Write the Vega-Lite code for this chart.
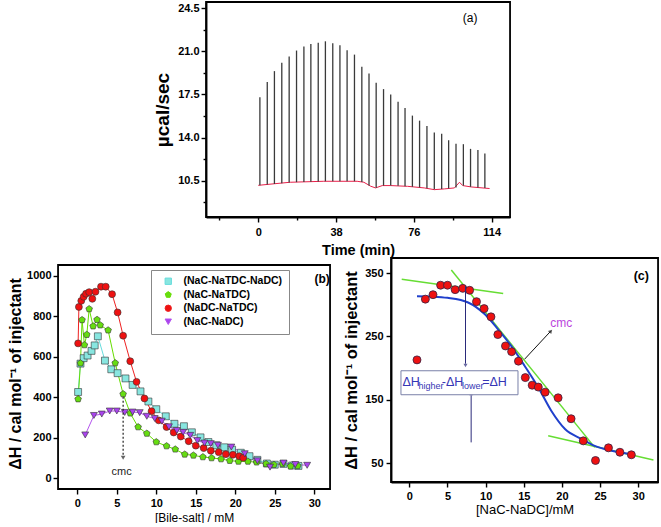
{
  "$schema": "https://vega.github.io/schema/vega-lite/v6.json",
  "background": "white",
  "padding": {"left": 7, "top": 1, "right": 0, "bottom": 0},
  "spacing": -7,
  "center": true,
  "config": {
    "font": "Liberation Sans",
    "view": {"stroke": "black", "strokeWidth": 1.8},
    "axis": {"grid": false, "domainColor": "black", "domainWidth": 1.8, "tickColor": "black", "tickWidth": 1.4, "tickSize": 5, "labelFontSize": 11, "labelFontWeight": "bold", "labelColor": "black", "titleColor": "black", "labelPadding": 2, "labelFont": "Liberation Sans", "titleFont": "Liberation Sans", "labelOverlap": false},
    "title": {"font": "Liberation Sans"}
  },
  "datasets": {
    "spikes": [
      {"t": 0.8, "base": 10.13, "peak": 17.26}, {"t": 4.4, "base": 10.18, "peak": 18.5}, {"t": 7.9, "base": 10.23, "peak": 19.39}, {"t": 11.5, "base": 10.28, "peak": 20.06},
      {"t": 15.1, "base": 10.35, "peak": 20.57}, {"t": 18.7, "base": 10.38, "peak": 21.06}, {"t": 22.3, "base": 10.4, "peak": 21.38}, {"t": 25.7, "base": 10.42, "peak": 21.59},
      {"t": 29.3, "base": 10.44, "peak": 21.7}, {"t": 32.8, "base": 10.45, "peak": 21.81}, {"t": 36.4, "base": 10.45, "peak": 21.65}, {"t": 39.9, "base": 10.45, "peak": 21.49},
      {"t": 43.4, "base": 10.45, "peak": 21.08}, {"t": 47.0, "base": 10.45, "peak": 20.73}, {"t": 50.6, "base": 10.4, "peak": 19.74}, {"t": 54.1, "base": 10.1, "peak": 19.2},
      {"t": 57.6, "base": 9.93, "peak": 18.44}, {"t": 61.2, "base": 10.1, "peak": 17.93}, {"t": 64.7, "base": 10.1, "peak": 17.5}, {"t": 68.3, "base": 10.08, "peak": 16.91},
      {"t": 71.7, "base": 10.05, "peak": 16.4}, {"t": 75.3, "base": 10.0, "peak": 15.78}, {"t": 78.8, "base": 9.95, "peak": 15.37}, {"t": 82.4, "base": 9.88, "peak": 14.94},
      {"t": 86.0, "base": 9.8, "peak": 14.4}, {"t": 89.6, "base": 9.82, "peak": 14.3}, {"t": 93.0, "base": 9.87, "peak": 13.78}, {"t": 96.6, "base": 9.95, "peak": 13.49},
      {"t": 100.2, "base": 10.1, "peak": 13.46}, {"t": 103.7, "base": 10.0, "peak": 13.08}, {"t": 107.3, "base": 9.95, "peak": 12.98}, {"t": 110.7, "base": 9.9, "peak": 12.7}
    ],
    "baseline": [
      {"t": 0, "v": 10.12}, {"t": 8, "v": 10.25}, {"t": 15.6, "v": 10.37}, {"t": 32, "v": 10.45}, {"t": 48.3, "v": 10.45}, {"t": 51.6, "v": 10.37},
      {"t": 54.9, "v": 10.05}, {"t": 57.3, "v": 9.91}, {"t": 60.6, "v": 10.1}, {"t": 64.7, "v": 10.1}, {"t": 72.9, "v": 10.04}, {"t": 81.1, "v": 9.91},
      {"t": 86, "v": 9.77}, {"t": 90.9, "v": 9.83}, {"t": 95.8, "v": 9.91}, {"t": 98.3, "v": 10.37}, {"t": 99.9, "v": 10.1}, {"t": 104, "v": 9.99}, {"t": 113, "v": 9.86}
    ],
    "b": [
      {"series": "(NaC-NaTDC-NaDC)", "x": 0.1, "y": 425}, {"series": "(NaC-NaTDC-NaDC)", "x": 0.4, "y": 565}, {"series": "(NaC-NaTDC-NaDC)", "x": 0.8, "y": 592}, {"series": "(NaC-NaTDC-NaDC)", "x": 1.3, "y": 605},
      {"series": "(NaC-NaTDC-NaDC)", "x": 1.8, "y": 628}, {"series": "(NaC-NaTDC-NaDC)", "x": 2.2, "y": 655}, {"series": "(NaC-NaTDC-NaDC)", "x": 2.6, "y": 700}, {"series": "(NaC-NaTDC-NaDC)", "x": 3.5, "y": 580},
      {"series": "(NaC-NaTDC-NaDC)", "x": 4.3, "y": 537}, {"series": "(NaC-NaTDC-NaDC)", "x": 5.1, "y": 518}, {"series": "(NaC-NaTDC-NaDC)", "x": 6.1, "y": 492}, {"series": "(NaC-NaTDC-NaDC)", "x": 7.0, "y": 460},
      {"series": "(NaC-NaTDC-NaDC)", "x": 8.0, "y": 428}, {"series": "(NaC-NaTDC-NaDC)", "x": 9.0, "y": 378}, {"series": "(NaC-NaTDC-NaDC)", "x": 10.0, "y": 340}, {"series": "(NaC-NaTDC-NaDC)", "x": 11.2, "y": 305},
      {"series": "(NaC-NaTDC-NaDC)", "x": 12.3, "y": 268}, {"series": "(NaC-NaTDC-NaDC)", "x": 13.5, "y": 256}, {"series": "(NaC-NaTDC-NaDC)", "x": 14.5, "y": 226}, {"series": "(NaC-NaTDC-NaDC)", "x": 15.6, "y": 201},
      {"series": "(NaC-NaTDC-NaDC)", "x": 16.6, "y": 178}, {"series": "(NaC-NaTDC-NaDC)", "x": 17.6, "y": 162}, {"series": "(NaC-NaTDC-NaDC)", "x": 18.6, "y": 152}, {"series": "(NaC-NaTDC-NaDC)", "x": 19.6, "y": 140},
      {"series": "(NaC-NaTDC-NaDC)", "x": 20.7, "y": 125}, {"series": "(NaC-NaTDC-NaDC)", "x": 21.8, "y": 108}, {"series": "(NaC-NaTDC-NaDC)", "x": 22.8, "y": 90}, {"series": "(NaC-NaTDC-NaDC)", "x": 24.0, "y": 72},
      {"series": "(NaC-NaTDC-NaDC)", "x": 25.0, "y": 66}, {"series": "(NaC-NaTDC-NaDC)", "x": 26.1, "y": 70}, {"series": "(NaC-NaTDC-NaDC)", "x": 27.2, "y": 62}, {"series": "(NaC-NaTDC-NaDC)", "x": 28.0, "y": 60},
      {"series": "(NaC-NaTDC)", "x": 0.1, "y": 390}, {"series": "(NaC-NaTDC)", "x": 0.4, "y": 567}, {"series": "(NaC-NaTDC)", "x": 0.6, "y": 781}, {"series": "(NaC-NaTDC)", "x": 0.9, "y": 657},
      {"series": "(NaC-NaTDC)", "x": 1.2, "y": 708}, {"series": "(NaC-NaTDC)", "x": 1.5, "y": 835}, {"series": "(NaC-NaTDC)", "x": 2.0, "y": 750}, {"series": "(NaC-NaTDC)", "x": 2.5, "y": 782},
      {"series": "(NaC-NaTDC)", "x": 2.9, "y": 755}, {"series": "(NaC-NaTDC)", "x": 3.9, "y": 730}, {"series": "(NaC-NaTDC)", "x": 4.8, "y": 568}, {"series": "(NaC-NaTDC)", "x": 5.8, "y": 415},
      {"series": "(NaC-NaTDC)", "x": 6.7, "y": 320}, {"series": "(NaC-NaTDC)", "x": 7.7, "y": 252}, {"series": "(NaC-NaTDC)", "x": 8.8, "y": 220}, {"series": "(NaC-NaTDC)", "x": 10.0, "y": 178},
      {"series": "(NaC-NaTDC)", "x": 11.3, "y": 158}, {"series": "(NaC-NaTDC)", "x": 12.4, "y": 142}, {"series": "(NaC-NaTDC)", "x": 13.6, "y": 117}, {"series": "(NaC-NaTDC)", "x": 14.7, "y": 112},
      {"series": "(NaC-NaTDC)", "x": 15.9, "y": 104}, {"series": "(NaC-NaTDC)", "x": 17.0, "y": 99}, {"series": "(NaC-NaTDC)", "x": 18.2, "y": 94}, {"series": "(NaC-NaTDC)", "x": 19.3, "y": 86},
      {"series": "(NaC-NaTDC)", "x": 20.4, "y": 82}, {"series": "(NaC-NaTDC)", "x": 21.6, "y": 82}, {"series": "(NaC-NaTDC)", "x": 22.7, "y": 78}, {"series": "(NaC-NaTDC)", "x": 23.9, "y": 70},
      {"series": "(NaC-NaTDC)", "x": 24.9, "y": 66}, {"series": "(NaC-NaTDC)", "x": 26.0, "y": 70}, {"series": "(NaC-NaTDC)", "x": 27.0, "y": 58}, {"series": "(NaC-NaTDC)", "x": 27.9, "y": 60},
      {"series": "(NaDC-NaTDC)", "x": 0.1, "y": 665}, {"series": "(NaDC-NaTDC)", "x": 0.2, "y": 845}, {"series": "(NaDC-NaTDC)", "x": 0.5, "y": 875}, {"series": "(NaDC-NaTDC)", "x": 0.8, "y": 895},
      {"series": "(NaDC-NaTDC)", "x": 1.1, "y": 910}, {"series": "(NaDC-NaTDC)", "x": 1.5, "y": 918}, {"series": "(NaDC-NaTDC)", "x": 1.9, "y": 885}, {"series": "(NaDC-NaTDC)", "x": 2.3, "y": 920},
      {"series": "(NaDC-NaTDC)", "x": 3.0, "y": 945}, {"series": "(NaDC-NaTDC)", "x": 3.6, "y": 945}, {"series": "(NaDC-NaTDC)", "x": 4.4, "y": 908}, {"series": "(NaDC-NaTDC)", "x": 5.1, "y": 818},
      {"series": "(NaDC-NaTDC)", "x": 5.8, "y": 703}, {"series": "(NaDC-NaTDC)", "x": 6.7, "y": 577}, {"series": "(NaDC-NaTDC)", "x": 7.5, "y": 475}, {"series": "(NaDC-NaTDC)", "x": 8.5, "y": 393},
      {"series": "(NaDC-NaTDC)", "x": 9.4, "y": 330}, {"series": "(NaDC-NaTDC)", "x": 10.3, "y": 285}, {"series": "(NaDC-NaTDC)", "x": 11.3, "y": 252}, {"series": "(NaDC-NaTDC)", "x": 12.2, "y": 225},
      {"series": "(NaDC-NaTDC)", "x": 13.1, "y": 205}, {"series": "(NaDC-NaTDC)", "x": 14.1, "y": 182}, {"series": "(NaDC-NaTDC)", "x": 15.0, "y": 160}, {"series": "(NaDC-NaTDC)", "x": 16.0, "y": 148},
      {"series": "(NaDC-NaTDC)", "x": 16.9, "y": 135}, {"series": "(NaDC-NaTDC)", "x": 17.9, "y": 128}, {"series": "(NaDC-NaTDC)", "x": 18.8, "y": 118}, {"series": "(NaDC-NaTDC)", "x": 19.7, "y": 115},
      {"series": "(NaDC-NaTDC)", "x": 20.5, "y": 108}, {"series": "(NaDC-NaTDC)", "x": 21.0, "y": 100},
      {"series": "(NaC-NaDC)", "x": 1.0, "y": 213}, {"series": "(NaC-NaDC)", "x": 2.1, "y": 309}, {"series": "(NaC-NaDC)", "x": 3.1, "y": 316}, {"series": "(NaC-NaDC)", "x": 4.1, "y": 331},
      {"series": "(NaC-NaDC)", "x": 5.0, "y": 331}, {"series": "(NaC-NaDC)", "x": 6.0, "y": 324}, {"series": "(NaC-NaDC)", "x": 7.0, "y": 326}, {"series": "(NaC-NaDC)", "x": 7.9, "y": 323},
      {"series": "(NaC-NaDC)", "x": 8.8, "y": 305}, {"series": "(NaC-NaDC)", "x": 9.8, "y": 294}, {"series": "(NaC-NaDC)", "x": 10.7, "y": 281}, {"series": "(NaC-NaDC)", "x": 11.6, "y": 253},
      {"series": "(NaC-NaDC)", "x": 12.6, "y": 235}, {"series": "(NaC-NaDC)", "x": 13.4, "y": 226}, {"series": "(NaC-NaDC)", "x": 14.3, "y": 211}, {"series": "(NaC-NaDC)", "x": 15.2, "y": 185},
      {"series": "(NaC-NaDC)", "x": 16.1, "y": 173}, {"series": "(NaC-NaDC)", "x": 16.9, "y": 170}, {"series": "(NaC-NaDC)", "x": 17.8, "y": 162}, {"series": "(NaC-NaDC)", "x": 19.5, "y": 153},
      {"series": "(NaC-NaDC)", "x": 21.2, "y": 120}, {"series": "(NaC-NaDC)", "x": 22.8, "y": 85}, {"series": "(NaC-NaDC)", "x": 24.4, "y": 54}, {"series": "(NaC-NaDC)", "x": 26.1, "y": 74},
      {"series": "(NaC-NaDC)", "x": 27.6, "y": 67}, {"series": "(NaC-NaDC)", "x": 29.1, "y": 63}
    ],
    "c": [
      {"x": 1.0, "y": 213}, {"x": 2.1, "y": 309}, {"x": 3.1, "y": 316}, {"x": 4.1, "y": 331}, {"x": 5.0, "y": 331}, {"x": 6.0, "y": 324}, {"x": 7.0, "y": 326},
      {"x": 7.9, "y": 323}, {"x": 8.8, "y": 305}, {"x": 9.8, "y": 294}, {"x": 10.7, "y": 281}, {"x": 11.6, "y": 253}, {"x": 12.6, "y": 235}, {"x": 13.4, "y": 226},
      {"x": 14.3, "y": 211}, {"x": 15.2, "y": 185}, {"x": 16.1, "y": 173}, {"x": 16.9, "y": 170}, {"x": 17.8, "y": 162}, {"x": 19.5, "y": 153}, {"x": 21.2, "y": 120},
      {"x": 22.8, "y": 85}, {"x": 24.4, "y": 54}, {"x": 26.1, "y": 74}, {"x": 27.6, "y": 67}, {"x": 29.1, "y": 63}
    ],
    "fit": [
      {"x": 1.0, "y": 313.7}, {"x": 3.0, "y": 313}, {"x": 5.0, "y": 311}, {"x": 7.7, "y": 303.7}, {"x": 9.9, "y": 285}, {"x": 11.6, "y": 261.6}, {"x": 13.35, "y": 235},
      {"x": 15.1, "y": 203.7}, {"x": 16.9, "y": 169.5}, {"x": 18.6, "y": 132.6}, {"x": 20.4, "y": 103.7}, {"x": 22.6, "y": 87.9}, {"x": 24.3, "y": 77}, {"x": 26.5, "y": 69.5}, {"x": 29.1, "y": 64}
    ],
    "tang": [
      {"id": 1, "x": -1.0, "y": 340.5}, {"id": 1, "x": 12.3, "y": 318},
      {"id": 2, "x": 5.5, "y": 355}, {"id": 2, "x": 24.3, "y": 74.7},
      {"id": 3, "x": 18.2, "y": 93}, {"id": 3, "x": 32.0, "y": 54.7}
    ]
  },
  "vconcat": [
    {
      "width": 304,
      "height": 215,
      "resolve": {"axis": {"y": "independent"}},
      "layer": [
        {
          "data": {"name": "baseline"},
          "mark": {"type": "line", "color": "#e8204a", "strokeWidth": 1},
          "encoding": {
            "x": {"field": "t", "type": "quantitative", "scale": {"domain": [-25.5, 123], "nice": false, "zero": false},
              "axis": {"title": "Time (min)", "titleFontSize": 14.5, "titleFontWeight": "bold", "titlePadding": 6, "values": [-19, 0, 19, 38, 57, 76, 95, 114],
                "labelExpr": "datum.value % 38 == 0 ? datum.label : ''", "tickSize": {"condition": {"test": "datum.value % 38 != 0", "value": 3}, "value": 5}, "labelPadding": 4}},
            "y": {"field": "v", "type": "quantitative", "scale": {"domain": [7.55, 25], "nice": false, "zero": false},
              "axis": {"orient": "left", "title": "µcal/sec", "titleFontSize": 19, "titleFontWeight": "bold", "titlePadding": 5, "values": [10.5, 14, 17.5, 21, 24.5], "format": ".1f"}}
          }
        },
        {
          "data": {"name": "spikes"},
          "mark": {"type": "rule", "color": "#3a3a3a", "strokeWidth": 1.3},
          "encoding": {
            "x": {"field": "t", "type": "quantitative"},
            "y": {"field": "base", "type": "quantitative",
              "axis": {"orient": "left", "title": null, "labels": false, "domain": false, "tickSize": 3, "values": [8.75, 12.25, 15.75, 19.25, 22.75]}},
            "y2": {"field": "peak"}
          }
        },
        {
          "data": {"values": [{"x": 103.5, "y": 23.7, "label": "(a)"}]},
          "mark": {"type": "text", "fontSize": 12, "color": "black"},
          "encoding": {"x": {"field": "x", "type": "quantitative"}, "y": {"field": "y", "type": "quantitative", "axis": null}, "text": {"field": "label"}}
        }
      ]
    },
    {
      "hconcat": [
        {
          "width": 272,
          "height": 231,
          "view": {"stroke": null},
          "layer": [
            {
              "data": {"values": [{"x": -2.44, "x2": 32, "y": -54, "y2": 1052}]},
              "mark": {"type": "rect", "filled": false, "stroke": "black", "strokeWidth": 1.8},
              "encoding": {
                "x": {"field": "x", "type": "quantitative", "scale": {"domain": [-2.44, 32], "nice": false, "zero": false},
                  "axis": {"title": "[Bile-salt] / mM", "domain": false, "titleFontSize": 12, "titleFontWeight": "normal", "titlePadding": 4, "values": [0, 2.5, 5, 7.5, 10, 12.5, 15, 17.5, 20, 22.5, 25, 27.5, 30],
                    "labelExpr": "datum.value % 5 == 0 ? datum.label : ''", "tickSize": {"condition": {"test": "datum.value % 5 != 0", "value": 3}, "value": 5}, "labelPadding": 3}},
                "x2": {"field": "x2"},
                "y": {"field": "y", "type": "quantitative", "scale": {"domain": [-54, 1086.6], "nice": false, "zero": false},
                  "axis": {"title": "ΔH / cal mol⁻¹ of injectant", "domain": false, "titleFontSize": 16, "titleFontWeight": "bold", "titlePadding": 3, "format": "d", "values": [0, 100, 200, 300, 400, 500, 600, 700, 800, 900, 1000]}},
                "y2": {"field": "y2"}
              }
            },
            {
              "data": {"name": "b"},
              "mark": {"type": "line", "strokeWidth": 1},
              "encoding": {
                "x": {"field": "x", "type": "quantitative"},
                "y": {"field": "y", "type": "quantitative"},
                "stroke": {"field": "series", "type": "nominal", "scale": {"domain": ["(NaC-NaTDC-NaDC)", "(NaC-NaTDC)", "(NaDC-NaTDC)", "(NaC-NaDC)"], "range": ["#66dcdc", "#66dd00", "#ee2222", "#b455ee"]},
                  "legend": {"orient": "none", "legendX": 93, "legendY": 268, "title": null, "strokeColor": "#888888", "fillColor": "white", "padding": 6, "labelFont": "Liberation Sans", "labelFontWeight": "bold", "labelFontSize": 10.5, "labelColor": "black", "symbolSize": 40, "rowPadding": 2.5, "labelOffset": 10, "symbolOffset": 6, "symbolStrokeWidth": 1}}
              }
            },
            {
              "data": {"name": "b"},
              "mark": {"type": "point", "stroke": "#333333", "strokeWidth": 0.6, "size": 48, "opacity": 1, "fillOpacity": 1},
              "encoding": {
                "x": {"field": "x", "type": "quantitative"},
                "y": {"field": "y", "type": "quantitative"},
                "fill": {"field": "series", "type": "nominal", "scale": {"domain": ["(NaC-NaTDC-NaDC)", "(NaC-NaTDC)", "(NaDC-NaTDC)", "(NaC-NaDC)"], "range": ["#88e6e0", "#66dd11", "#ee1111", "#aa44ee"]},
                  "legend": {"orient": "none", "legendX": 93, "legendY": 268, "title": null, "strokeColor": "#888888", "fillColor": "white", "padding": 6, "labelFont": "Liberation Sans", "labelFontWeight": "bold", "labelFontSize": 10.5, "labelColor": "black", "symbolSize": 40, "rowPadding": 2.5, "labelOffset": 10, "symbolOffset": 6, "symbolStrokeWidth": 1}},
                "shape": {"field": "series", "type": "nominal", "scale": {"domain": ["(NaC-NaTDC-NaDC)", "(NaC-NaTDC)", "(NaDC-NaTDC)", "(NaC-NaDC)"], "range": ["square", "M0,-1L0.951,-0.309L0.588,0.809L-0.588,0.809L-0.951,-0.309Z", "circle", "triangle-down"]},
                  "legend": {"orient": "none", "legendX": 93, "legendY": 268, "title": null, "strokeColor": "#888888", "fillColor": "white", "padding": 6, "labelFont": "Liberation Sans", "labelFontWeight": "bold", "labelFontSize": 10.5, "labelColor": "black", "symbolSize": 40, "rowPadding": 2.5, "labelOffset": 10, "symbolOffset": 6, "symbolStrokeWidth": 1}}
              }
            },
            {
              "data": {"values": [{"x": 5.8, "y": 402, "y2": 108}]},
              "mark": {"type": "rule", "color": "#222222", "strokeWidth": 1.2, "strokeDash": [2, 2]},
              "encoding": {"x": {"field": "x", "type": "quantitative"}, "y": {"field": "y", "type": "quantitative"}, "y2": {"field": "y2"}}
            },
            {
              "data": {"values": [{"x": 5.8, "y": 100}]},
              "mark": {"type": "point", "shape": "triangle-down", "filled": true, "color": "#222222", "size": 22},
              "encoding": {"x": {"field": "x", "type": "quantitative"}, "y": {"field": "y", "type": "quantitative"}}
            },
            {
              "data": {"values": [{"x": 5.6, "y": 30, "label": "cmc"}]},
              "mark": {"type": "text", "fontSize": 11, "color": "#222222"},
              "encoding": {"x": {"field": "x", "type": "quantitative"}, "y": {"field": "y", "type": "quantitative"}, "text": {"field": "label"}}
            },
            {
              "data": {"values": [{"x": 31.0, "y": 983, "label": "(b)"}]},
              "mark": {"type": "text", "fontSize": 12, "fontWeight": "bold", "color": "black"},
              "encoding": {"x": {"field": "x", "type": "quantitative"}, "y": {"field": "y", "type": "quantitative"}, "text": {"field": "label"}}
            }
          ]
        },
        {
          "width": 267,
          "height": 224,
          "layer": [
            {
              "data": {"name": "tang"},
              "mark": {"type": "line", "color": "#66dd33", "strokeWidth": 1.5},
              "encoding": {
                "x": {"field": "x", "type": "quantitative", "scale": {"domain": [-2.4, 32.6], "nice": false, "zero": false},
                  "axis": {"title": "[NaC-NaDC]/mM", "titleFontSize": 13, "titleFontWeight": "normal", "titlePadding": 2, "values": [0, 2.5, 5, 7.5, 10, 12.5, 15, 17.5, 20, 22.5, 25, 27.5, 30, 32.5],
                    "labelExpr": "datum.value % 5 == 0 ? datum.label : ''", "tickSize": {"condition": {"test": "datum.value % 5 != 0", "value": 3}, "value": 5}, "labelPadding": 3}},
                "y": {"field": "y", "type": "quantitative", "scale": {"domain": [20, 374], "nice": false, "zero": false},
                  "axis": {"title": "ΔH / cal mol⁻¹ of injectant", "titleFontSize": 16.5, "titleFontWeight": "bold", "titlePadding": 5, "values": [50, 100, 150, 200, 250, 300, 350], "labelPadding": 3}},
                "detail": {"field": "id", "type": "nominal"}
              }
            },
            {
              "data": {"name": "fit"},
              "mark": {"type": "line", "color": "#2040cc", "strokeWidth": 2, "interpolate": "monotone"},
              "encoding": {"x": {"field": "x", "type": "quantitative"}, "y": {"field": "y", "type": "quantitative"}}
            },
            {
              "data": {"name": "c"},
              "mark": {"type": "point", "filled": true, "fill": "#ee1111", "stroke": "#332244", "strokeWidth": 0.8, "size": 64, "opacity": 1},
              "encoding": {"x": {"field": "x", "type": "quantitative"}, "y": {"field": "y", "type": "quantitative"}}
            },
            {
              "data": {"values": [{"x": 15.1, "y": 214, "x2": 18.5, "y2": 258}]},
              "mark": {"type": "rule", "color": "#111111", "strokeWidth": 1},
              "encoding": {"x": {"field": "x", "type": "quantitative"}, "y": {"field": "y", "type": "quantitative"}, "x2": {"field": "x2"}, "y2": {"field": "y2"}}
            },
            {
              "data": {"values": [{"x": 18.55, "y": 258.5}]},
              "mark": {"type": "point", "shape": "triangle-up", "angle": 42, "filled": true, "color": "#111111", "size": 20},
              "encoding": {"x": {"field": "x", "type": "quantitative"}, "y": {"field": "y", "type": "quantitative"}}
            },
            {
              "data": {"values": [{"x": 7.36, "y": 330, "y2": 207}, {"x": 8.1, "y": 82.6, "y2": 157}]},
              "mark": {"type": "rule", "color": "#2a2a7a", "strokeWidth": 1},
              "encoding": {"x": {"field": "x", "type": "quantitative"}, "y": {"field": "y", "type": "quantitative"}, "y2": {"field": "y2"}}
            },
            {
              "data": {"values": [{"x": 7.36, "y": 204}]},
              "mark": {"type": "point", "shape": "triangle-down", "filled": true, "color": "#2a2a7a", "size": 16},
              "encoding": {"x": {"field": "x", "type": "quantitative"}, "y": {"field": "y", "type": "quantitative"}}
            },
            {
              "data": {"values": [{"x": 8.1, "y": 160}]},
              "mark": {"type": "point", "shape": "triangle-up", "filled": true, "color": "#2a2a7a", "size": 16},
              "encoding": {"x": {"field": "x", "type": "quantitative"}, "y": {"field": "y", "type": "quantitative"}}
            },
            {
              "data": {"values": [{"x": -1.1, "x2": 14.24, "y": 157.9, "y2": 195.8}]},
              "mark": {"type": "rect", "fill": "white", "stroke": "#7a80a8", "strokeWidth": 1},
              "encoding": {"x": {"field": "x", "type": "quantitative"}, "x2": {"field": "x2"}, "y": {"field": "y", "type": "quantitative"}, "y2": {"field": "y2"}}
            },
            {
              "data": {"values": [{"x": -0.9, "y": 172.5, "label": "ΔH"}, {"x": 4.25, "y": 172.5, "label": "-ΔH"}, {"x": 9.55, "y": 172.5, "label": "=ΔH"}]},
              "mark": {"type": "text", "align": "left", "baseline": "alphabetic", "fontSize": 12.5, "color": "#3535b5"},
              "encoding": {"x": {"field": "x", "type": "quantitative"}, "y": {"field": "y", "type": "quantitative"}, "text": {"field": "label"}}
            },
            {
              "data": {"values": [{"x": 1.2, "y": 166.5, "label": "higher"}, {"x": 6.9, "y": 166.5, "label": "lower"}]},
              "mark": {"type": "text", "align": "left", "baseline": "alphabetic", "fontSize": 9, "color": "#3535b5"},
              "encoding": {"x": {"field": "x", "type": "quantitative"}, "y": {"field": "y", "type": "quantitative"}, "text": {"field": "label"}}
            },
            {
              "data": {"values": [{"x": 19.9, "y": 271, "label": "cmc"}]},
              "mark": {"type": "text", "fontSize": 12, "color": "#bb44dd"},
              "encoding": {"x": {"field": "x", "type": "quantitative"}, "y": {"field": "y", "type": "quantitative"}, "text": {"field": "label"}}
            },
            {
              "data": {"values": [{"x": 30.4, "y": 345, "label": "(c)"}]},
              "mark": {"type": "text", "fontSize": 12.5, "fontWeight": "bold", "color": "black"},
              "encoding": {"x": {"field": "x", "type": "quantitative"}, "y": {"field": "y", "type": "quantitative"}, "text": {"field": "label"}}
            }
          ]
        }
      ],
      "spacing": 11
    }
  ]
}
